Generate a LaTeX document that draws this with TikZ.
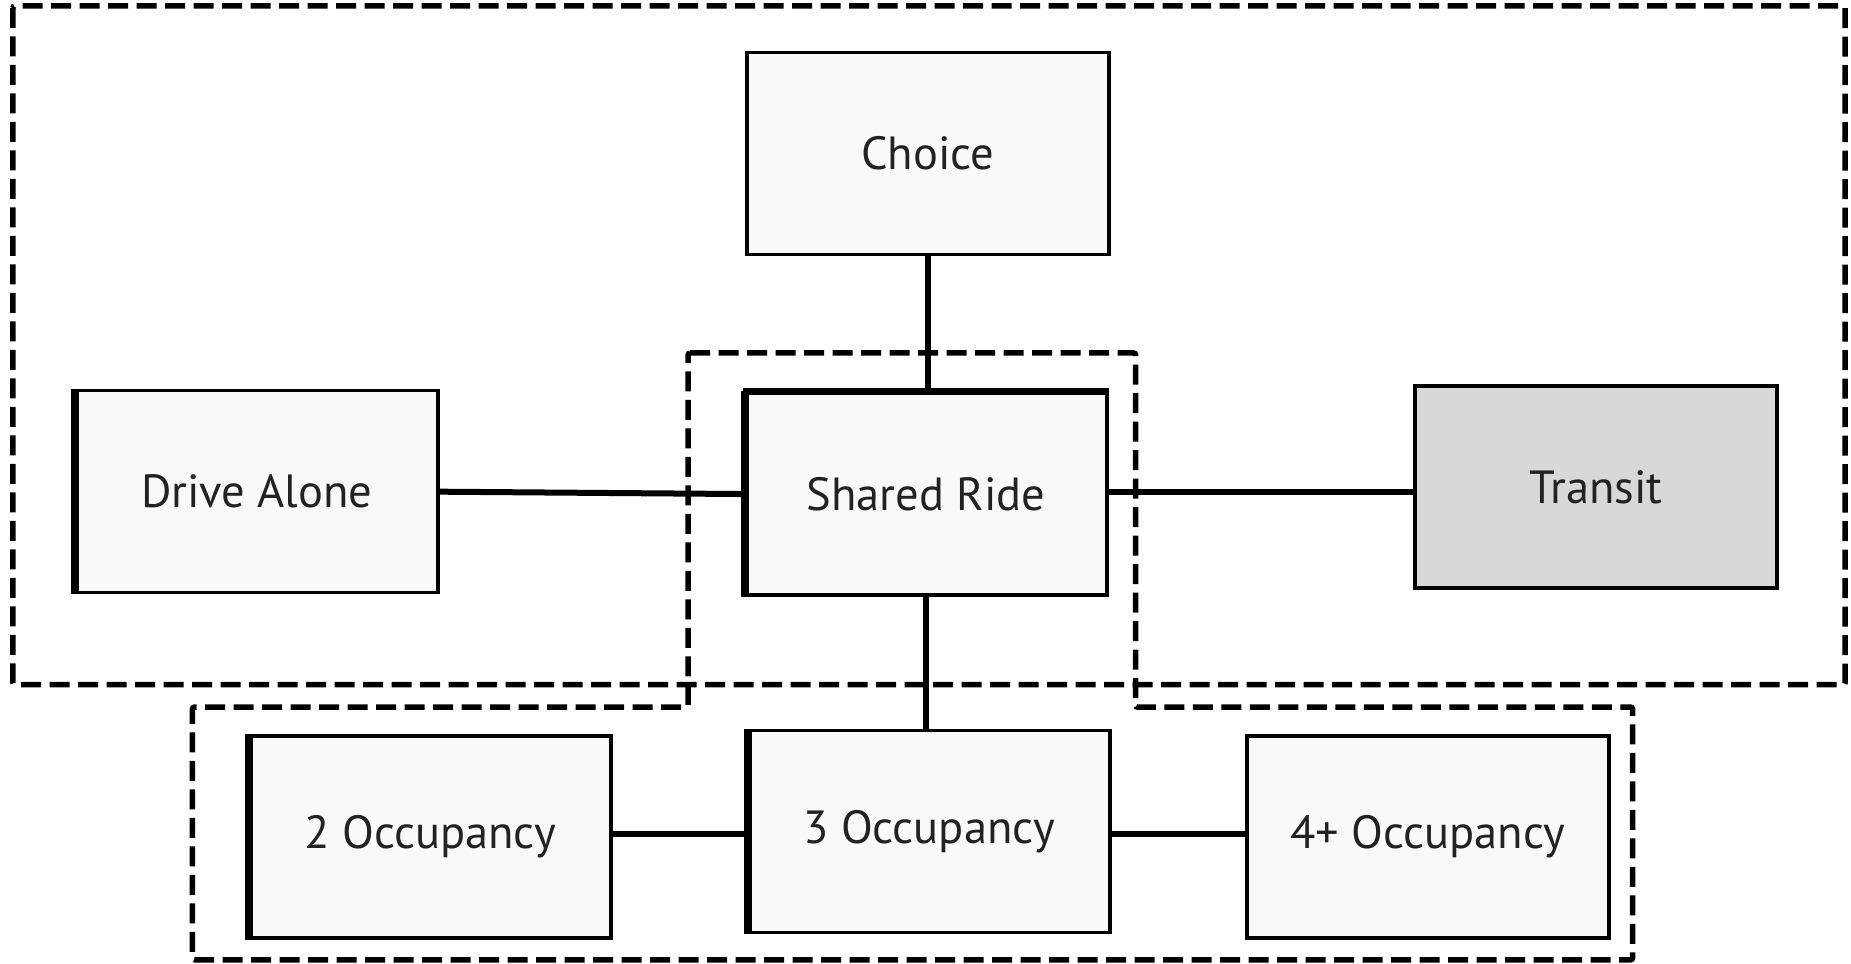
\documentclass[tikz,border=0pt]{standalone}
\usepackage{fontspec}
\setmainfont{PT Sans}
\definecolor{boxfill}{HTML}{F9F9F9}
\definecolor{transitfill}{HTML}{D8D8D8}
\definecolor{txt}{HTML}{222222}
\begin{document}
\begin{tikzpicture}[x=1.1805pt,y=-1.1805pt,
  box/.style={draw=black, line width=3.6pt, fill=boxfill, minimum width=362pt,
    minimum height=202pt, inner sep=0pt, font=\fontsize{46.5}{52}\selectfont, text=txt},
  link/.style={line width=6pt},
  grp/.style={draw=black, line width=5.5pt, dash pattern=on 20pt off 8.5pt, rounded corners=2pt},
  leftedge/.style={line width=8pt}]
\useasboundingbox (0,0) rectangle (1568,816);
% nest outlines
\draw[grp] (11,5) rectangle (1563,580);
\draw[grp] (583,299) -- (962,299) -- (962,599) -- (1383,599) -- (1383,813)
  -- (163,813) -- (163,599) -- (583,599) -- cycle;
% nodes
\node[box] (choice) at (786,130) {Choice};
\node[box] (shared) at (784.5,418.5) {Shared Ride};
\node[box] (drive) at (217.5,416.5) {Drive Alone};
\node[box, fill=transitfill] (transit) at (1352,412.5) {Transit};
\node[box] (occ2) at (364.5,709) {2 Occupancy};
\node[box] (occ3) at (787,704.5) {3 Occupancy};
\node[box] (occ4) at (1209.5,709) {4+ Occupancy};
% heavier left edges
\foreach \n in {drive,shared,occ2,occ3}
  \draw[leftedge] ([xshift=1.5pt]\n.north west) -- ([xshift=1.5pt]\n.south west);
\draw[line width=6pt] (shared.north west) -- (shared.north east);
% connectors
\draw[link] (choice.south) -- (choice.south |- shared.north);
\draw[link] (drive.east) -- (shared.west);
\draw[link] ([yshift=2pt]shared.east) -- ([yshift=2pt]shared.east -| transit.west);
\draw[link] (shared.south) -- (shared.south |- occ3.north);
\draw[link] ([yshift=2.5pt]occ2.east) -- ([yshift=2.5pt]occ2.east -| occ3.west);
\draw[link] ([yshift=2.5pt]occ4.west) -- ([yshift=2.5pt]occ4.west -| occ3.east);
\end{tikzpicture}
\end{document}
